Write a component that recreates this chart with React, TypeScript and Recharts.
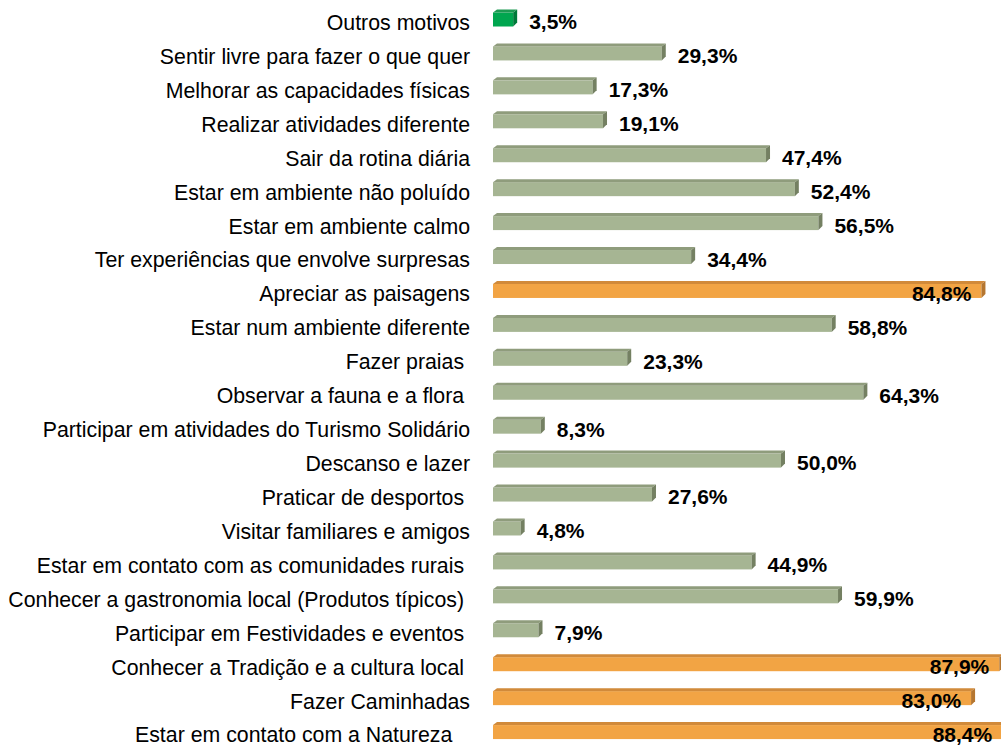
import { BarChart, Bar, XAxis, YAxis, Cell, LabelList } from "recharts";

// Motivos da visita (% de respostas), de cima para baixo
const motivos = [
  "Outros motivos",
  "Sentir livre para fazer o que quer",
  "Melhorar as capacidades físicas",
  "Realizar atividades diferente",
  "Sair da rotina diária",
  "Estar em ambiente não poluído",
  "Estar em ambiente calmo",
  "Ter experiências que envolve surpresas",
  "Apreciar as paisagens",
  "Estar num ambiente diferente",
  "Fazer praias ",
  "Observar a fauna e a flora ",
  "Participar em atividades do Turismo Solidário",
  "Descanso e lazer",
  "Praticar de desportos ",
  "Visitar familiares e amigos",
  "Estar em contato com as comunidades rurais ",
  "Conhecer a gastronomia local (Produtos típicos) ",
  "Participar em Festividades e eventos ",
  "Conhecer a Tradição e a cultura local ",
  "Fazer Caminhadas",
  "Estar em contato com a Natureza   ",
];

const percentagens = [
  3.5, 29.3, 17.3, 19.1, 47.4, 52.4, 56.5, 34.4, 84.8, 58.8, 23.3, 64.3, 8.3, 50.0, 27.6, 4.8, 44.9, 59.9, 7.9,
  87.9, 83.0, 88.4,
];

// grupo de cor de cada barra
const grupos = [
  "outros", "base", "base", "base", "base", "base", "base", "base", "top", "base", "base",
  "base", "base", "base", "base", "base", "base", "base", "base", "top", "top", "top",
];

const palette: Record<string, { front: string; top: string; side: string }> = {
  base: { front: "#a6b593", top: "#8f9c7c", side: "#748062" },
  top: { front: "#f2a444", top: "#d18a3a", side: "#b57630" },
  outros: { front: "#00a64f", top: "#1c9a52", side: "#007a3a" },
};

const data = motivos.map((m, i) => ({ motivo: m, valor: percentagens[i], grupo: grupos[i] }));

const DEPTH = 4;

const Bar3D = (props: any) => {
  const { x, y, width, height, payload } = props;
  const c = palette[payload.grupo];
  const yy = y - 4;
  const d = DEPTH;
  return (
    <g>
      <rect x={x} y={yy + d - 1} width={width} height={height - d + 1} fill={c.front} />
      <polygon
        points={`${x},${yy + d - 1} ${x + d},${yy} ${x + width + d},${yy} ${x + width},${yy + d - 1}`}
        fill={c.top}
      />
      <polygon
        points={`${x + width},${yy + d - 1} ${x + width + d},${yy} ${x + width + d},${yy + height - d} ${x + width},${yy + height}`}
        fill={c.side}
      />
    </g>
  );
};

const ValueLabel = (props: any) => {
  const { x, y, width, height, value, index } = props;
  const inside = grupos[index] === "top";
  const txt = Number(value).toFixed(1).replace(".", ",") + "%";
  return (
    <text
      x={inside ? x + width - 10 : x + width + 16}
      y={y + height / 2}
      dy="0.35em"
      textAnchor={inside ? "end" : "start"}
      fontFamily="'Liberation Sans', Arial, sans-serif"
      fontSize={21}
      fontWeight="bold"
      fill="#000"
    >
      {txt}
    </text>
  );
};

const MotivoTick = (props: any) => {
  const { y, payload } = props;
  return (
    <text
      x={470}
      y={y}
      dy="0.35em"
      textAnchor="end"
      fontFamily="'Liberation Sans', Arial, sans-serif"
      fontSize={21.3}
      fill="#000"
      style={{ whiteSpace: "pre" }}
    >
      {payload.value}
    </text>
  );
};

export default function App() {
  return (
    <div style={{ position: "absolute", left: 0, top: 0, width: 1001, height: 747, overflow: "hidden", background: "#fff" }}>
      <BarChart
        width={1080}
        height={757}
        data={data}
        layout="vertical"
        margin={{ top: 5.5, right: 11, left: 0, bottom: 5 }}
        barCategoryGap={0}
      >
        <XAxis type="number" domain={[0, 100]} hide />
        <YAxis
          type="category"
          dataKey="motivo"
          width={493}
          axisLine={false}
          tickLine={false}
          interval={0}
          tick={<MotivoTick />}
        />
        <Bar dataKey="valor" barSize={17} shape={<Bar3D />} isAnimationActive={false}>
          {data.map((d, i) => (
            <Cell key={i} fill={palette[d.grupo].front} />
          ))}
          <LabelList dataKey="valor" content={<ValueLabel />} />
        </Bar>
      </BarChart>
    </div>
  );
}
